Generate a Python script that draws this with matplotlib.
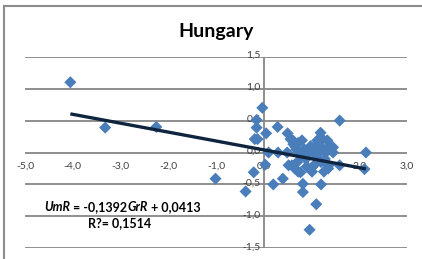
import numpy as np
import matplotlib
matplotlib.use('Agg')
import matplotlib.pyplot as plt

plt.rcParams['font.family'] = ['Lato', 'DejaVu Sans']

# growth rate (GrR) vs unemployment rate change (UmR)
grr = [-4.05, -3.32, -2.25, -1.01, -0.38, -0.21, -0.03, -0.15, -0.15, -0.19,
       -0.13, 0.05, 0.03, 0.10, 0.20, 0.29, 0.40, 0.30, 0.50, 0.56,
       0.61, 0.52, 0.59, 0.49, 0.66, 0.72, 0.80, 0.77, 0.82, 0.82,
       0.98, 0.96, 1.01, 1.10, 1.19, 1.12, 1.19, 1.15, 1.20, 1.26,
       1.33, 1.36, 1.42, 1.45, 1.36, 1.59, 1.59, 2.14, 2.11,
       0.62, 0.68, 0.72, 0.75, 0.78, 0.85, 0.88, 0.65, 0.70, 0.90,
       1.05, 1.10, 1.15, 1.22, 1.25, 1.30, 1.28, 1.20, 1.35, 1.45, 1.05, 0.95]
umr = [1.10, 0.39, 0.40, -0.41, -0.61, -0.31, 0.70, 0.51, 0.39, 0.21,
       0.21, 0.30, -0.19, 0.00, -0.50, 0.40, -0.41, 0.00, 0.30, 0.21,
       0.19, -0.20, -0.20, 0.00, 0.09, -0.30, 0.19, -0.31, -0.49, -0.62,
       0.10, -1.21, -0.30, -0.81, 0.31, 0.19, 0.09, 0.00, -0.50, -0.30,
       0.19, 0.09, 0.10, 0.00, -0.20, 0.50, -0.20, 0.00, -0.26,
       0.13, 0.05, 0.15, 0.00, -0.05, 0.05, -0.10, -0.25, -0.15, -0.22,
       0.05, -0.05, 0.15, 0.22, 0.05, 0.00, -0.10, -0.15, -0.25, 0.08, -0.20, 0.00]

slope = -0.1392
intercept = 0.0413
r2 = 0.1514

xticks = [-5, -4, -3, -2, -1, 0, 1, 2, 3]
yticks = [-1.5, -1.0, -0.5, 0.0, 0.5, 1.0, 1.5]

grid_c = '#868686'
text_c = '#404040'

fig = plt.figure(figsize=(4.22, 2.59), dpi=100)
# chart border (left / top visible in the crop)
fig.add_artist(plt.Line2D([0.009, 0.009], [0, 0.975], color='#8c8c8c', lw=1.5))
fig.add_artist(plt.Line2D([0.009, 1], [0.975, 0.975], color='#8c8c8c', lw=1.5))

ax = fig.add_axes([0.0592, 0.0413, 0.9053, 0.7397])
ax.set_xlim(-5, 3)
ax.set_ylim(-1.5, 1.5)
for s in ax.spines.values():
    s.set_visible(False)
ax.set_xticks([])
ax.set_yticks([])

for y in yticks:
    ax.axhline(y, color=grid_c, lw=1.3, zorder=1)
ax.axvline(0, color=grid_c, lw=1.3, zorder=1)

for x in xticks:
    ax.text(x, -0.21, f'{x:.1f}'.replace('.', ','), ha='center', va='center',
            fontsize=7.5, color=text_c, zorder=2)
for y in yticks:
    ax.text(-0.06, y + 0.02, f'{y:.1f}'.replace('.', ','), ha='right', va='center',
            fontsize=7.5, color=text_c, zorder=2)

ax.scatter(grr, umr, marker='D', s=38, color='#4a7ebb', edgecolors='none', zorder=3)

xs = np.array([min(grr), max(grr)])
ax.plot(xs, slope * xs + intercept, color='#0f243e', lw=2.4, zorder=4,
        solid_capstyle='butt')

fig.text(0.511, 0.88, 'Hungary', ha='center', va='center', fontsize=14,
         fontweight='bold', color='black')

# equation label, pieces with italic variable names
pieces = [('UmR', 'italic'), (' = ' + f'{slope:.4f}'.replace('.', ','), 'normal'),
          ('GrR', 'italic'), (' + ' + f'{intercept:.4f}'.replace('.', ','), 'normal')]
fig.canvas.draw()
renderer = fig.canvas.get_renderer()
texts = []
total = 0
for s, st in pieces:
    t = fig.text(0, 0.201, s, fontsize=9, fontweight='bold', style=st, color='black',
                 va='center')
    w = t.get_window_extent(renderer).width
    texts.append((t, w))
    total += w
x0 = 0.29 * fig.bbox.width - total / 2
for t, w in texts:
    t.set_x(x0 / fig.bbox.width)
    x0 += w
fig.text(0.283, 0.139, 'R?= ' + f'{r2:.4f}'.replace('.', ','), ha='center', va='center',
         fontsize=9, fontweight='bold', color='black')

plt.savefig('out.png', dpi=100)
